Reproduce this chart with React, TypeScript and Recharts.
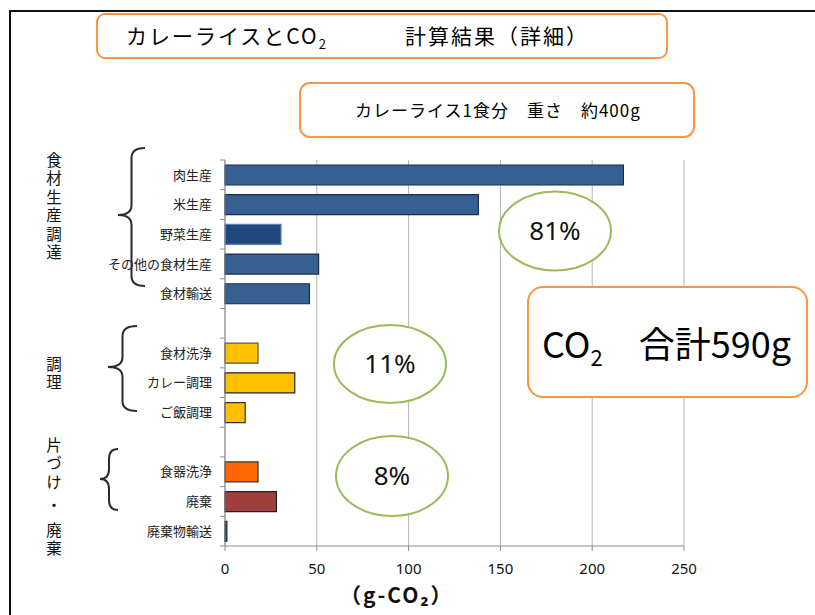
import { BarChart, Bar, XAxis, YAxis, CartesianGrid, Cell } from "recharts";

// categories top to bottom (blank rows separate the three groups)
const categories = [
  "肉生産",
  "米生産",
  "野菜生産",
  "その他の食材生産",
  "食材輸送",
  "",
  "食材洗浄",
  "カレー調理",
  "ご飯調理",
  "",
  "食器洗浄",
  "廃棄",
  "廃棄物輸送",
];
const emissions = [217, 138, 30.5, 51, 46, null, 18, 38, 11, null, 18, 28, 1];
const xTicks = [0, 50, 100, 150, 200, 250];

// vertical group labels: text and the centre y of its first glyph
const groupLabels = [
  { text: "食材生産調達", y: 160 },
  { text: "調理", y: 364 },
  { text: "片づけ", y: 445 },
  { text: "・", y: 505 },
  { text: "廃棄", y: 530 },
];
const shares = ["81%", "11%", "8%"];

const barFills = [
  "#376092", "#376092", "#1f497d", "#376092", "#376092", "#fff",
  "#ffc000", "#ffc000", "#ffc000", "#fff",
  "#ff6600", "#a0403c", "#1f3a60",
];
const barStrokes = [
  "#1c2c44", "#1c2c44", "#5a7fb0", "#1c2c44", "#1c2c44", "none",
  "#555", "#222", "#333", "none",
  "#333", "#222", "#1c2c44",
];

const data = categories.map((name, i) => ({ name, value: emissions[i] }));

const PLOT_TOP = 160;
const PLOT_BOTTOM = 546;
const BAND = (PLOT_BOTTOM - PLOT_TOP) / categories.length;
const JP = '"Noto Sans CJK JP", "Noto Sans", sans-serif';
const LAT = '"Noto Sans", sans-serif';

function CategoryTick(props: any) {
  const { x, y, payload } = props;
  const idx = payload?.index ?? props.index;
  return (
    <g>
      <line x1={x - 5} x2={x} y1={y - BAND / 2} y2={y - BAND / 2} stroke="#8c8c8c" />
      {idx === categories.length - 1 && (
        <line x1={x - 5} x2={x} y1={y + BAND / 2} y2={y + BAND / 2} stroke="#8c8c8c" />
      )}
      <text x={x - 13} y={y} dy="0.36em" textAnchor="end" fontSize={13} fill="#222" fontFamily={JP}>
        {payload.value}
      </text>
    </g>
  );
}

function Brace({ xr, xt, yt, yb, ym }: { xr: number; xt: number; yt: number; yb: number; ym: number }) {
  const xm = (xr + xt) / 2;
  const r = 10;
  const d = `M${xr},${yt} Q${xm},${yt} ${xm},${yt + r} L${xm},${ym - r} Q${xm},${ym} ${xt},${ym} Q${xm},${ym} ${xm},${ym + r} L${xm},${yb - r} Q${xm},${yb} ${xr},${yb}`;
  return <path d={d} fill="none" stroke="#2b2b2b" strokeWidth={2} />;
}

const boxStyle = {
  position: "absolute" as const,
  border: "2px solid #f79646",
  boxSizing: "border-box" as const,
  background: "#fff",
  fontFamily: JP,
  color: "#000",
};

export default function App() {
  return (
    <div
      style={{
        position: "absolute",
        left: 0,
        top: 0,
        width: 815,
        height: 615,
        background: "#fff",
        overflow: "hidden",
        fontFamily: JP,
      }}
    >
      {/* page frame */}
      <div style={{ position: "absolute", left: 9, top: 10, width: 820, height: 620, borderTop: "2px solid #111", borderLeft: "2px solid #111" }} />

      <div style={{ position: "absolute", left: 0, top: 0 }}>
        <BarChart
          width={815}
          height={615}
          data={data}
          layout="vertical"
          margin={{ top: PLOT_TOP, right: 131, bottom: 39, left: 105 }}
          barSize={20}
        >
          <CartesianGrid horizontal={false} stroke="#b4b4b4" />
          <XAxis
            type="number"
            domain={[0, 250]}
            ticks={xTicks}
            interval={0}
            height={30}
            stroke="#8c8c8c"
            tickSize={5}
            tickMargin={12}
            tick={{ fontSize: 15, fill: "#111", fontFamily: LAT }}
          />
          <YAxis
            type="category"
            dataKey="name"
            width={120}
            interval={0}
            tickSize={0}
            tickMargin={0}
            tickLine={false}
            stroke="#8c8c8c"
            tick={<CategoryTick />}
          />
          <Bar dataKey="value" isAnimationActive={false}>
            {data.map((_, i) => (
              <Cell key={i} fill={barFills[i]} stroke={barStrokes[i]} strokeWidth={1.2} />
            ))}
          </Bar>
        </BarChart>
      </div>

      {/* braces and percentage ellipses */}
      <svg width={815} height={615} style={{ position: "absolute", left: 0, top: 0, pointerEvents: "none" }}>
        <Brace xr={145} xt={118} yt={148} yb={286} ym={215} />
        <Brace xr={137} xt={108} yt={326} yb={411} ym={367} />
        <Brace xr={118} xt={100} yt={449} yb={510} ym={479} />
        <ellipse cx={555} cy={231} rx={56} ry={39.5} fill="#fff" stroke="#9bbb59" strokeWidth={2} />
        <ellipse cx={390} cy={364} rx={56} ry={39} fill="#fff" stroke="#9bbb59" strokeWidth={2} />
        <ellipse cx={392} cy={476} rx={56} ry={40} fill="#fff" stroke="#9bbb59" strokeWidth={2} />
        <text x={555} y={231} dy="0.36em" textAnchor="middle" fontSize={26} fill="#111" fontFamily={LAT}>{shares[0]}</text>
        <text x={390} y={364} dy="0.36em" textAnchor="middle" fontSize={26} fill="#111" fontFamily={LAT}>{shares[1]}</text>
        <text x={392} y={476} dy="0.36em" textAnchor="middle" fontSize={26} fill="#111" fontFamily={LAT}>{shares[2]}</text>
      </svg>

      {groupLabels.map((g, i) => (
        <div
          key={i}
          style={{
            position: "absolute",
            left: 44,
            top: g.y - 7.75,
            width: 20,
            writingMode: "vertical-rl",
            fontSize: 15.5,
            lineHeight: "20px",
            letterSpacing: 3,
            color: "#111",
            whiteSpace: "nowrap",
          }}
        >
          {g.text}
        </div>
      ))}

      {/* title boxes */}
      <div style={{ ...boxStyle, left: 96, top: 13, width: 572, height: 46, borderRadius: 9 }}>
        <span style={{ position: "absolute", left: 28, top: 5, fontSize: 21, letterSpacing: 2, whiteSpace: "nowrap" }}>
          カレーライスとCO<sub style={{ fontSize: 13 }}>2</sub>
        </span>
        <span style={{ position: "absolute", left: 307, top: 5, fontSize: 21, letterSpacing: 2, whiteSpace: "nowrap" }}>
          計算結果（詳細）
        </span>
      </div>
      <div style={{ ...boxStyle, left: 299, top: 82, width: 396, height: 56, borderRadius: 11 }}>
        <span style={{ position: "absolute", left: 54, top: 13, fontSize: 17, letterSpacing: 1, whiteSpace: "pre" }}>
          カレーライス1食分　重さ　約400g
        </span>
      </div>
      <div style={{ ...boxStyle, left: 527, top: 286, width: 281, height: 112, borderRadius: 16 }}>
        <span style={{ position: "absolute", left: 13, top: 28, fontSize: 36, whiteSpace: "nowrap" }}>
          CO<sub style={{ fontSize: 22 }}>2</sub>　合計590g
        </span>
      </div>

      {/* axis unit */}
      <div style={{ position: "absolute", left: 340, top: 579, fontSize: 21, fontWeight: 700, letterSpacing: 2, whiteSpace: "nowrap", color: "#111" }}>
        （g-CO₂）
      </div>
    </div>
  );
}
